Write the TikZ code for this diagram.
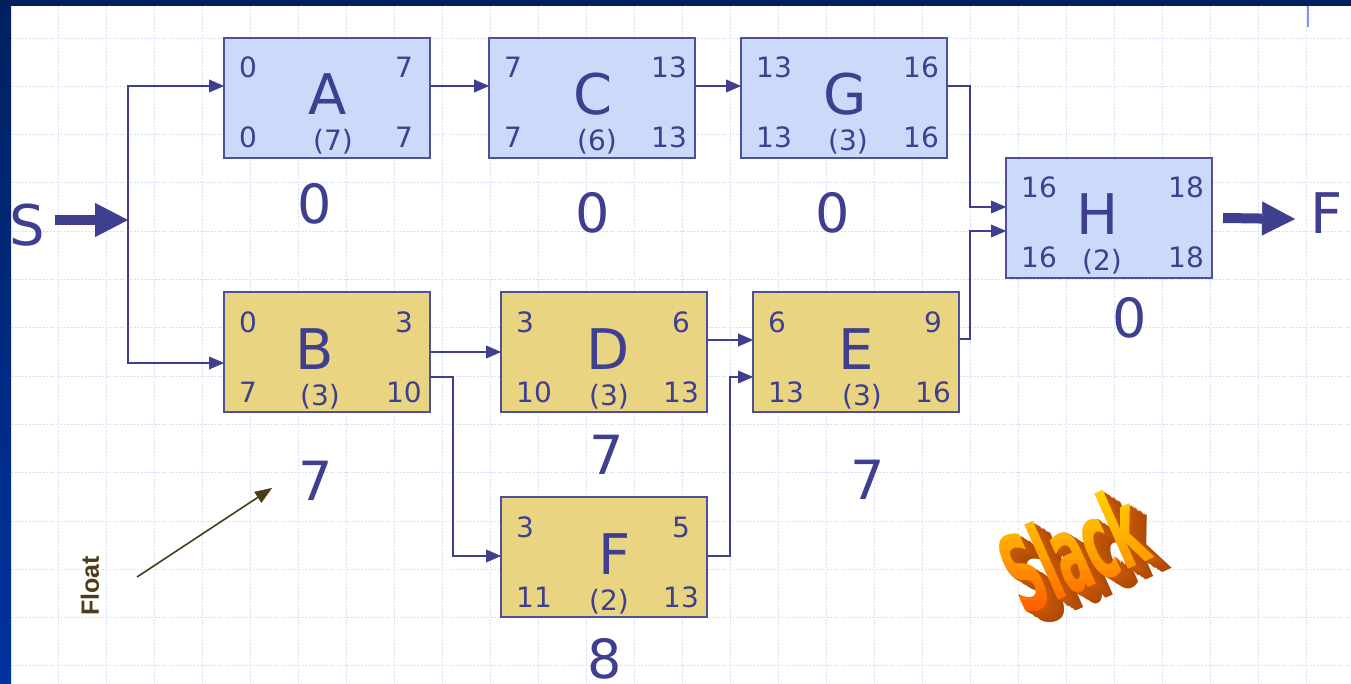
\documentclass[tikz,border=0pt]{standalone}
\usepackage{fontspec}
\setmainfont{DejaVu Sans}
\newfontfamily\libsans{Liberation Sans}
\usetikzlibrary{arrows.meta,calc}

\definecolor{ink}{HTML}{3F3F8F}
\definecolor{boxline}{HTML}{50509A}
\definecolor{bluefill}{HTML}{CCDAFA}
\definecolor{goldfill}{HTML}{E9D581}
\definecolor{gridc}{HTML}{D6E0FA}
\definecolor{navy}{HTML}{002060}
\definecolor{navytwo}{HTML}{0033A0}
\definecolor{floatc}{HTML}{4D3B19}
\definecolor{slackdark}{HTML}{C85A08}
\definecolor{slackdeep}{HTML}{9A3C00}
\definecolor{slacktop}{HTML}{FFE400}
\definecolor{slackmid}{HTML}{FFA000}
\definecolor{slackbot}{HTML}{FF3C00}

\tikzset{
  actbox/.style={draw=boxline, line width=1.2pt, minimum width=206pt, minimum height=120pt, inner sep=0pt, outer sep=0pt},
  crit/.style={actbox, fill=bluefill},
  noncrit/.style={actbox, fill=goldfill},
  num/.style={font=\fontsize{28}{28}\selectfont, text=ink, inner sep=0pt},
  big/.style={font=\fontsize{56}{56}\selectfont, text=ink, inner sep=0pt},
  slackval/.style={font=\fontsize{54}{54}\selectfont, text=ink, inner sep=0pt},
  endlbl/.style={font=\fontsize{56}{56}\selectfont, text=ink, inner sep=0pt},
  arr/.style={draw=ink, line width=1.8pt, -{Triangle[length=15pt,width=13pt,line width=0.4pt]}},
  bigarrow/.style={draw=ink, line width=10pt, -{Triangle[length=33pt,width=34pt,line width=0.4pt]}},
  floatarr/.style={draw=floatc, line width=1.6pt, -{Triangle[length=17pt,width=13pt,line width=0.4pt]}},
  gridline/.style={draw=gridc, line width=0.9pt, dash pattern=on 2pt off 1.5pt},
  slackshape/.style={font=\bfseries\fontsize{44}{44}\selectfont, inner sep=0pt, rotate=24, xscale=1.08, yscale=2.45},
}

\newcommand\actnode[7]{%
  \node[#2] (#1) at #3 {};
  \node[num, anchor=base west] (#1tl) at ([xshift=15pt,yshift=-40pt]#1.north west) {#4};
  \node[num, anchor=base] (#1tr) at ([xshift=-26pt,yshift=-40pt]#1.north east) {#5};
  \node[num, anchor=base west] (#1bl) at ([xshift=15pt,yshift=-110pt]#1.north west) {#6};
  \node[num, anchor=base] (#1br) at ([xshift=-26pt,yshift=-110pt]#1.north east) {#7};
}
\newcommand\actlabel[5]{%
  \node[big, anchor=base] (#1let) at ([xshift=#3pt,yshift=-77pt]#1.north) {#2};
  \node[num, anchor=base] (#1dur) at ([xshift=#5pt,yshift=-113pt]#1.north) {#4};
}

\begin{document}
\begin{tikzpicture}[x=1pt,y=-1pt]
  \useasboundingbox (0,0) rectangle (1351,684);
  \fill[white] (0,0) rectangle (1351,684);
  % grid
  \foreach \i in {0,...,26} \draw[gridline] ({58+48*\i},6) -- ({58+48*\i},684);
  \foreach \j in {0,...,13} \draw[gridline] (11,{38+48.3*\j}) -- (1351,{38+48.3*\j});
  % frame
  \fill[navy] (0,0) rectangle (1351,6);
  \shade[top color=navy, bottom color=navytwo] (0,0) rectangle (11,684);
  \draw[color=blue!45!white, line width=1.2pt] (1308,6) -- (1308,27);

  % activities
  \actnode{A}{crit}{(327,98)}{0}{7}{0}{7}
  \actlabel{A}{A}{1}{(7)}{6}
  \actnode{C}{crit}{(592,98)}{7}{13}{7}{13}
  \actlabel{C}{C}{1}{(6)}{5}
  \actnode{G}{crit}{(844,98)}{13}{16}{13}{16}
  \actlabel{G}{G}{1}{(3)}{4}
  \actnode{H}{crit}{(1109,218)}{16}{18}{16}{18}
  \actlabel{H}{H}{-11}{(2)}{-7}
  \actnode{B}{noncrit}{(327,352)}{0}{3}{7}{10}
  \actlabel{B}{B}{-12}{(3)}{-7}
  \actnode{D}{noncrit}{(604,352)}{3}{6}{10}{13}
  \actlabel{D}{D}{4}{(3)}{5}
  \actnode{E}{noncrit}{(856,352)}{6}{9}{13}{16}
  \actlabel{E}{E}{0}{(3)}{6}
  \actnode{F}{noncrit}{(604,557)}{3}{5}{11}{13}
  \actlabel{F}{F}{11}{(2)}{5}

  % slack values
  \node[slackval] (sA) at (315,204) {0};
  \node[slackval] (sC) at (593,213) {0};
  \node[slackval] (sG) at (833,213) {0};
  \node[slackval] (sH) at (1130,318) {0};
  \node[slackval] (sB) at (316,481) {7};
  \node[slackval] (sD) at (607,455) {7};
  \node[slackval] (sE) at (868,480) {7};
  \node[slackval] (sF) at (605,659) {8};

  % start / finish
  \node[endlbl] (S) at (27,225) {S};
  \node[endlbl] (Fin) at (1327,213) {F};
  \coordinate (S0) at (55,220);
  \coordinate (J) at (128,220);
  \coordinate (F0) at (1295,219);
  \draw[bigarrow] (S0) -- (J);
  \draw[bigarrow] ([xshift=11pt]H.east) -- (F0);

  % connectors
  \draw[arr] (J) |- ([yshift=-48pt]A.north west);
  \draw[arr] (J) |- ([yshift=-71pt]B.north west);
  \draw[arr] ([yshift=-48pt]A.north east) -- ([yshift=-48pt]C.north west);
  \draw[arr] ([yshift=-48pt]C.north east) -- ([yshift=-48pt]G.north west);
  \draw[arr] ([yshift=-48pt]G.north east) -- ++(23,0) |- ([yshift=-49pt]H.north west);
  \draw[arr] ([yshift=-47pt]E.north east) -- ++(11,0) |- ([yshift=-73pt]H.north west);
  \draw[arr] ([yshift=-60pt]B.north east) -- ([yshift=-60pt]D.north west);
  \draw[arr] ([yshift=-85pt]B.north east) -- ++(23,0) |- ([yshift=-59pt]F.north west);
  \draw[arr] ([yshift=-48pt]D.north east) -- ([yshift=-48pt]E.north west);
  \draw[arr] ([yshift=-59pt]F.north east) -- ++(23,0) |- ([yshift=-85pt]E.north west);

  % float annotation
  \node[font=\libsans\bfseries\fontsize{25}{25}\selectfont, text=floatc, rotate=90, inner sep=0pt] (float) at (90,586) {Float};
  \coordinate (fs) at (137,577);
  \coordinate (ft) at (272,488);
  \draw[floatarr] (fs) -- (ft);

  % Slack word art: extrusion
  \foreach \k in {14,13,...,1} {
    \pgfmathtruncatemacro\mixv{100-4*\k}
    \node[slackshape, text=slackdark!\mixv!slackdeep] (sl\k) at ({1072+1.3*\k},{550+0.8*\k}) {Slack};
  }
  % front face with vertical colour gradient (banded clip)
  \foreach \b in {0,...,17} {
    \pgfmathtruncatemacro\mixa{\b<9 ? 100-\b*11 : 100-(\b-9)*12}
    \ifnum\b<9
      \colorlet{bandc}{slacktop!\mixa!slackmid}
    \else
      \colorlet{bandc}{slackmid!\mixa!slackbot}
    \fi
    \begin{scope}
      \clip (950,{460+10*\b}) rectangle (1200,{470.6+10*\b});
      \node[slackshape, text=bandc] (slf\b) at (1072,550) {Slack};
      \node[slackshape, text=bandc] (slg\b) at (1073.2,550) {Slack};
    \end{scope}
  }
\end{tikzpicture}
\end{document}
